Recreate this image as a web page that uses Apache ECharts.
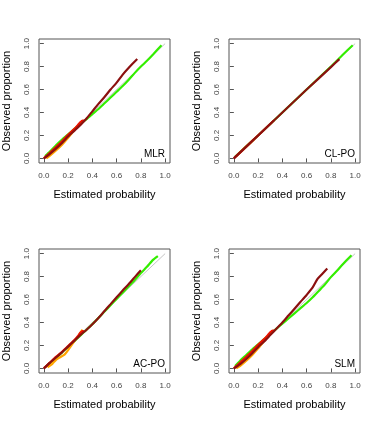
<!DOCTYPE html>
<html>
<head>
<meta charset="utf-8">
<script src="https://cdn.jsdelivr.net/npm/echarts@6/dist/echarts.min.js"></script>
<style>
  html, body { margin: 0; padding: 0; background: #fff; }
  #chart { width: 380px; height: 423px; }
</style>
</head>
<body>
<div id="chart"></div>
<script>
// panel names and tick values
var panelNames = ['MLR', 'CL-PO', 'AC-PO', 'SLM'];
var tickValues = [0, 0.2, 0.4, 0.6, 0.8, 1.0];
var diag = [[0, 0], [1, 1]];

// calibration curves, [estimated, observed]
var mlrGreen = [[0.01,0.02],[0.05,0.06],[0.1,0.115],[0.15,0.165],[0.2,0.21],[0.25,0.255],[0.3,0.3],[0.35,0.34],[0.4,0.385],[0.45,0.43],[0.5,0.48],[0.55,0.53],[0.6,0.58],[0.65,0.63],[0.7,0.685],[0.75,0.745],[0.8,0.8],[0.85,0.85],[0.9,0.905],[0.97,0.985]];
var mlrOrange = [[0.02,0.0],[0.05,0.025],[0.1,0.07],[0.15,0.12],[0.2,0.18],[0.25,0.245],[0.3,0.305],[0.32,0.325]];
var mlrRed = [[0,0],[0.03,0.03],[0.06,0.06],[0.1,0.1],[0.15,0.15],[0.2,0.205],[0.25,0.255],[0.28,0.29],[0.3,0.315],[0.32,0.33],[0.33,0.33]];
var mlrDark = [[0,0],[0.05,0.04],[0.1,0.085],[0.15,0.135],[0.2,0.19],[0.25,0.24],[0.3,0.29],[0.35,0.345],[0.4,0.41],[0.45,0.475],[0.5,0.535],[0.55,0.6],[0.6,0.66],[0.65,0.73],[0.7,0.79],[0.77,0.865]];

var clGreen = [[0.01,0.015],[0.2,0.2],[0.4,0.4],[0.6,0.6],[0.8,0.8],[0.9,0.905],[0.98,0.985]];
var clOrange = [[0.02,0.02],[0.17,0.17]];
var clRed = [[0,0],[0.33,0.33]];
var clDark = [[0,0],[0.2,0.2],[0.4,0.4],[0.6,0.6],[0.8,0.795],[0.87,0.865]];

var acGreen = [[0.01,0.01],[0.05,0.045],[0.1,0.09],[0.15,0.14],[0.2,0.186],[0.25,0.235],[0.3,0.285],[0.35,0.335],[0.4,0.385],[0.45,0.44],[0.5,0.495],[0.55,0.55],[0.6,0.605],[0.65,0.66],[0.7,0.715],[0.75,0.77],[0.8,0.83],[0.85,0.885],[0.9,0.945],[0.94,0.978]];
var acOrange = [[0.03,0.01],[0.07,0.04],[0.1,0.075],[0.13,0.095],[0.17,0.12],[0.2,0.16],[0.25,0.235],[0.29,0.29],[0.31,0.325],[0.32,0.335]];
var acRed = [[0,0],[0.05,0.05],[0.1,0.1],[0.15,0.145],[0.2,0.195],[0.25,0.245],[0.28,0.28],[0.3,0.31],[0.32,0.325],[0.33,0.325]];
var acDark = [[0,0],[0.05,0.05],[0.1,0.095],[0.15,0.14],[0.2,0.19],[0.25,0.24],[0.3,0.29],[0.35,0.335],[0.4,0.385],[0.45,0.44],[0.5,0.5],[0.55,0.56],[0.6,0.62],[0.65,0.678],[0.7,0.735],[0.75,0.795],[0.8,0.855]];

var slmGreen = [[0.01,0.02],[0.05,0.065],[0.1,0.115],[0.15,0.165],[0.2,0.21],[0.25,0.255],[0.3,0.3],[0.35,0.345],[0.4,0.39],[0.45,0.435],[0.5,0.48],[0.55,0.525],[0.6,0.57],[0.65,0.62],[0.7,0.675],[0.75,0.73],[0.8,0.795],[0.85,0.85],[0.9,0.91],[0.97,0.985]];
var slmOrange = [[0.02,0.0],[0.05,0.02],[0.1,0.065],[0.15,0.115],[0.2,0.175],[0.25,0.24],[0.3,0.305],[0.32,0.325]];
var slmRed = [[0,0],[0.03,0.03],[0.06,0.06],[0.1,0.1],[0.15,0.15],[0.2,0.205],[0.25,0.255],[0.28,0.29],[0.3,0.315],[0.32,0.33],[0.33,0.33]];
var slmDark = [[0,0],[0.05,0.035],[0.1,0.08],[0.15,0.13],[0.2,0.185],[0.25,0.235],[0.3,0.29],[0.35,0.345],[0.4,0.4],[0.45,0.46],[0.5,0.52],[0.55,0.58],[0.6,0.64],[0.65,0.705],[0.69,0.78],[0.73,0.825],[0.77,0.87]];

var panelData = [
  [mlrGreen, mlrOrange, mlrRed, mlrDark],
  [clGreen, clOrange, clRed, clDark],
  [acGreen, acOrange, acRed, acDark],
  [slmGreen, slmOrange, slmRed, slmDark]
];
var curveColors = ['#33ee00', '#ffa500', '#ee1100', '#8b1010'];

var chart = echarts.init(document.getElementById('chart'));
var font = 'Liberation Sans, Arial, sans-serif';
var lefts = [39, 229, 39, 229];
var tops = [39, 39, 249, 249];

var grids = [], xAxes = [], yAxes = [], series = [], titles = [];
for (var i = 0; i < 4; i++) {
  grids.push({ left: lefts[i], top: tops[i], width: 131, height: 124, show: true,
    borderColor: '#555', borderWidth: 1, backgroundColor: 'transparent' });
  var common = {
    gridIndex: i, type: 'value', min: -0.04, max: 1.04,
    axisLine: { show: false },
    splitLine: { show: false },
    axisTick: { show: true, inside: false, length: 4, customValues: tickValues,
      lineStyle: { color: '#555' } },
    axisLabel: { customValues: tickValues, fontSize: 8, color: '#444', fontFamily: font,
      formatter: function (v) { return v.toFixed(1); } },
    nameLocation: 'middle',
    nameTextStyle: { fontSize: 11, color: '#000', fontFamily: font }
  };
  var xa = echarts.util.merge({}, common, true);
  xa.name = 'Estimated probability';
  xa.nameGap = 26;
  xa.axisLabel.margin = 9;
  xa.axisLabel.formatter = common.axisLabel.formatter;
  xAxes.push(xa);
  var ya = echarts.util.merge({}, common, true);
  ya.name = 'Observed proportion';
  ya.nameGap = 27;
  ya.nameRotate = 90;
  ya.axisLabel.rotate = 90;
  ya.axisLabel.margin = 8;
  ya.axisLabel.formatter = common.axisLabel.formatter;
  yAxes.push(ya);

  series.push({ type: 'line', xAxisIndex: i, yAxisIndex: i, data: diag, showSymbol: false,
    silent: true, lineStyle: { color: '#c4c4c4', width: 1 } });
  for (var k = 0; k < 4; k++) {
    series.push({ type: 'line', xAxisIndex: i, yAxisIndex: i, data: panelData[i][k],
      showSymbol: false, silent: true, smooth: 0.2,
      lineStyle: { color: curveColors[k], width: 2.2 } });
  }
  titles.push({ text: panelNames[i], right: (i % 2 === 0) ? 215 : 25,
    top: tops[i] + 110, padding: 0,
    textStyle: { fontSize: 10, fontWeight: 'normal', color: '#000', fontFamily: font } });
}

chart.setOption({
  animation: false,
  title: titles,
  grid: grids,
  xAxis: xAxes,
  yAxis: yAxes,
  series: series
});
</script>
</body>
</html>
